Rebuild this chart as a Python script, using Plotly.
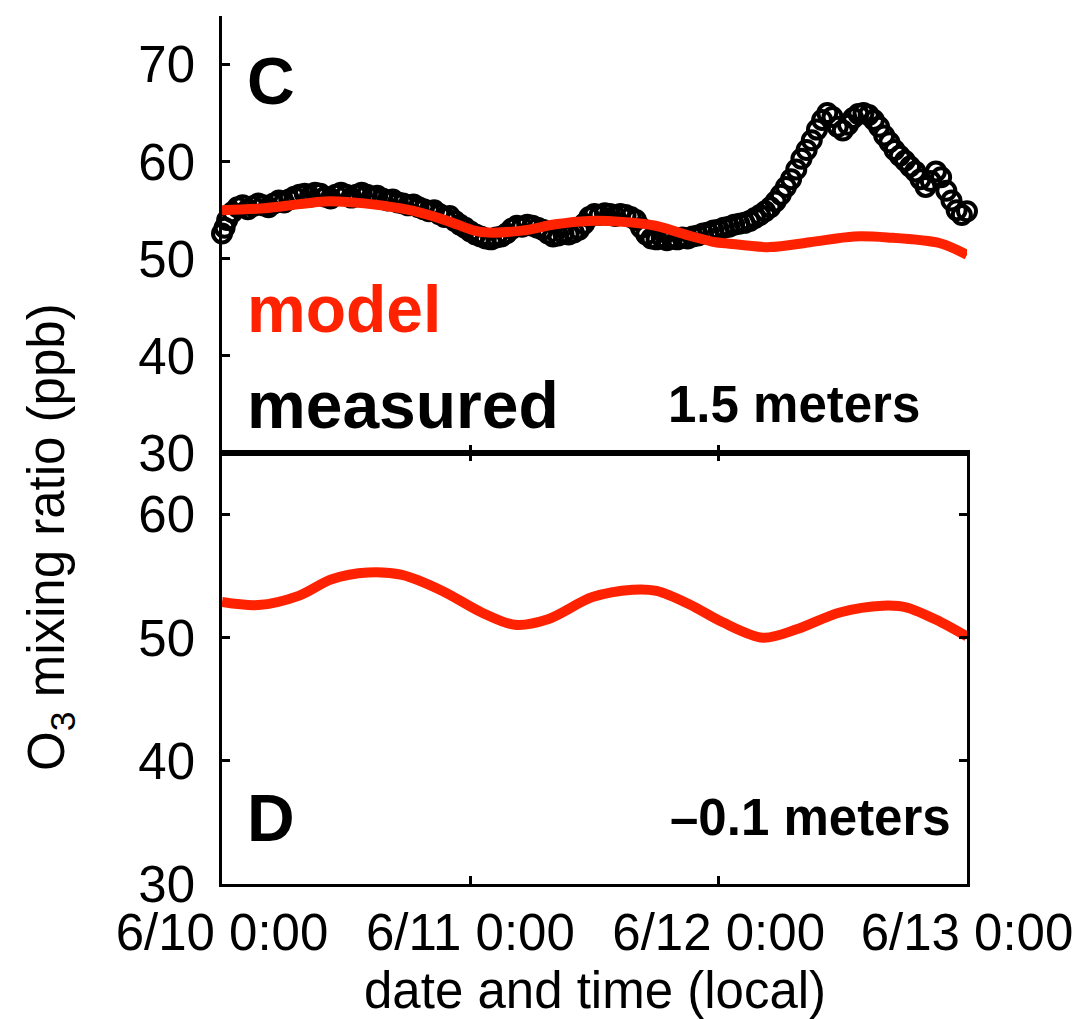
import pandas as pd
import plotly.graph_objects as go

# ---------------- data (hours after 6/10 0:00, O3 in ppb) ----------------
meas_hours = [0.0, 0.25, 0.5, 1.0, 1.5, 2.0, 2.5, 3.0, 3.5, 4.0, 4.5, 5.0, 5.5, 6.0, 6.5,
              7.0, 7.5, 8.0, 8.5, 9.0, 9.5, 10.0, 10.5, 11.0, 11.5, 12.0, 12.5, 13.0, 13.5,
              14.0, 14.5, 15.0, 15.5, 16.0, 16.5, 17.0, 17.5, 18.0, 18.5, 19.0, 19.5, 20.0,
              20.5, 21.0, 21.5, 22.0, 22.5, 23.0, 23.5, 24.0, 24.5, 25.0, 25.5, 26.0, 26.5,
              27.0, 27.5, 28.0, 28.5, 29.0, 29.5, 30.0, 30.5, 31.0, 31.5, 32.0, 32.5, 33.0,
              33.5, 34.0, 34.5, 35.0, 35.5, 36.0, 36.5, 37.0, 37.5, 38.0, 38.5, 39.0, 39.5,
              40.0, 40.5, 41.0, 41.5, 42.0, 42.5, 43.0, 43.5, 44.0, 44.5, 45.0, 45.5, 46.0,
              46.5, 47.0, 47.5, 48.0, 48.5, 49.0, 49.5, 50.0, 50.5, 51.0, 51.5, 52.0, 52.5,
              53.0, 53.5, 54.0, 54.5, 55.0, 55.5, 56.0, 56.5, 57.0, 57.5, 58.0, 58.5, 59.0,
              59.5, 60.0, 60.5, 61.0, 61.5, 62.0, 62.5, 63.0, 63.5, 64.0, 64.5, 65.0, 65.5,
              66.0, 66.5, 67.0, 67.5, 68.0, 68.5, 69.0, 69.5, 70.0, 70.5, 71.0, 71.5, 72.0]
meas_o3 = [52.6, 53.2, 54.0, 54.8, 55.3, 55.5, 55.1, 55.4, 55.7, 55.5, 55.3, 55.7, 56.0, 55.8, 56.1,
           56.4, 56.6, 56.7, 56.4, 56.8, 56.7, 56.4, 56.2, 56.6, 56.8, 56.6, 56.3, 56.6, 56.8,
           56.6, 56.4, 56.5, 56.2, 56.0, 56.1, 55.8, 55.7, 55.5, 55.6, 55.3, 55.1, 54.9,
           55.0, 54.6, 54.3, 54.4, 53.9, 53.5, 53.2, 52.8, 52.5, 52.3, 52.1, 52.0, 52.2,
           52.3, 52.6, 53.1, 53.4, 53.3, 53.5, 53.4, 53.2, 53.0, 52.6, 52.3, 52.4, 52.6,
           52.5, 52.7, 53.0, 53.6, 54.3, 54.6, 54.5, 54.7, 54.6, 54.4, 54.6, 54.5, 54.3,
           54.0, 53.2, 52.5, 52.1, 52.0, 52.2, 51.9, 52.1, 52.0, 52.2, 52.1, 52.3, 52.4,
           52.6, 52.7, 52.9, 53.0, 53.2, 53.3, 53.5, 53.6, 53.7, 53.9, 54.2, 54.5, 54.9,
           55.3, 55.9, 56.6, 57.4, 58.2, 59.2, 60.3, 61.2, 62.2, 63.3, 64.3, 65.0, 64.6,
           63.6, 63.2, 63.8, 64.5, 64.9, 65.0, 64.8, 64.3, 63.6, 62.7, 62.0, 61.2, 60.6,
           60.1, 59.5, 59.0, 58.2, 57.4, 58.0, 59.0, 58.4, 57.0, 56.0, 55.0, 54.5, 54.9]

model_c_hours = [0.0, 4.1, 7.3, 9.9, 12.1, 15.4, 18.6, 21.8, 24.4, 25.7, 29.0, 32.2, 35.4,
                 38.7, 41.9, 45.1, 47.7, 48.7, 52.9, 56.8, 61.1, 64.3, 69.4, 72.0]
model_c_o3 = [55.0, 55.2, 55.6, 55.9, 55.85, 55.5, 54.9, 53.9, 52.9, 52.7, 52.9, 53.55,
              53.9, 53.8, 53.4, 52.4, 51.7, 51.6, 51.2, 51.7, 52.3, 52.2, 51.6, 50.4]

model_d_hours = [0.0, 3.5, 7.4, 10.6, 14.1, 17.4, 21.3, 25.1, 28.3, 31.5, 35.8, 39.7,
                 42.0, 45.2, 48.4, 52.3, 55.6, 59.7, 63.9, 66.2, 69.4, 72.0]
model_d_o3 = [52.9, 52.65, 53.4, 54.75, 55.3, 55.1, 53.8, 52.05, 51.05, 51.5, 53.3, 53.9,
              53.8, 52.7, 51.25, 50.0, 50.7, 52.05, 52.6, 52.45, 51.3, 50.1]

tick_days = ["2010-06-10", "2010-06-11", "2010-06-12", "2010-06-13"]
tick_labels = ["6/10 0:00", "6/11 0:00", "6/12 0:00", "6/13 0:00"]
yticks_c = [30, 40, 50, 60, 70]
yticks_d = [30, 40, 50, 60]

# ---------------- figure ----------------
t0 = pd.Timestamp("2010-06-10")
def to_time(hours):
    return [t0 + pd.Timedelta(hours=h) for h in hours]

RED = "#ff2200"
FONT = "Liberation Sans, Arial, Helvetica, sans-serif"

fig = go.Figure()
fig.add_trace(go.Scatter(x=to_time(meas_hours), y=meas_o3, mode="markers",
                         marker=dict(symbol="circle-open", size=18, color="black",
                                     line=dict(width=4, color="black")),
                         xaxis="x", yaxis="y", showlegend=False, cliponaxis=False))
fig.add_trace(go.Scatter(x=to_time(model_c_hours), y=model_c_o3, mode="lines",
                         line=dict(color=RED, width=10, shape="spline", smoothing=0.9),
                         xaxis="x", yaxis="y", showlegend=False))
fig.add_trace(go.Scatter(x=to_time(model_d_hours), y=model_d_o3, mode="lines",
                         line=dict(color=RED, width=10, shape="spline", smoothing=0.9),
                         xaxis="x2", yaxis="y2", showlegend=False))

split = 431 / 868
xr = [t0, t0 + pd.Timedelta(hours=72)]
axis_common = dict(showgrid=False, zeroline=False, showline=True, linecolor="black",
                   linewidth=2.5, ticks="inside", ticklen=8, tickwidth=2.5,
                   tickcolor="black", automargin=False,
                   tickfont=dict(family=FONT, size=51, color="black"))

fig.update_layout(
    width=1080, height=1019,
    margin=dict(l=222, r=113, t=16, b=135, autoexpand=False),
    paper_bgcolor="white", plot_bgcolor="white",
    xaxis=dict(domain=[0, 1], anchor="y", range=xr, tickvals=tick_days,
               showticklabels=False, mirror=False, **axis_common),
    yaxis=dict(domain=[split, 1], anchor="x", range=[30, 75], tickvals=yticks_c,
               mirror=False, ticklabelstandoff=14, **axis_common),
    xaxis2=dict(domain=[0, 1], anchor="y2", range=xr, tickvals=tick_days,
                ticktext=tick_labels, mirror="ticks", ticklabelstandoff=2, **axis_common),
    yaxis2=dict(domain=[0, split], anchor="x2", range=[30, 65], tickvals=yticks_d,
                mirror="ticks", ticklabelstandoff=14, **axis_common),
)

def t_at(h):
    return t0 + pd.Timedelta(hours=h)

ann = [
    dict(text="<b>C</b>", x=t_at(2.2), y=68.3, xref="x", yref="y", xanchor="left",
         yanchor="middle", font=dict(size=66, color="black")),
    dict(text="<b>model</b>", x=t_at(2.2), y=44.8, xref="x", yref="y", xanchor="left",
         yanchor="middle", font=dict(size=66, color=RED)),
    dict(text="<b>measured</b>", x=t_at(2.2), y=34.9, xref="x", yref="y", xanchor="left",
         yanchor="middle", font=dict(size=66, color="black")),
    dict(text="<b>1.5 meters</b>", x=t_at(67.65), y=35.0, xref="x", yref="y", xanchor="right",
         yanchor="middle", font=dict(size=51, color="black")),
    dict(text="<b>D</b>", x=t_at(2.2), y=35.4, xref="x2", yref="y2", xanchor="left",
         yanchor="middle", font=dict(size=66, color="black")),
    dict(text="<b>\u20130.1 meters</b>", x=t_at(70.6), y=35.4, xref="x2", yref="y2",
         xanchor="right", yanchor="middle", font=dict(size=51, color="black")),
    dict(text="date and time (local)", x=0.5, y=(884 - 990) / 868, xref="paper", yref="paper",
         xanchor="center", yanchor="middle", font=dict(size=51, color="black")),
    dict(text="O<sub>3</sub> mixing ratio (ppb)", x=(50 - 222) / 745, y=(884 - 537) / 868,
         xref="paper", yref="paper", xanchor="center", yanchor="middle", textangle=-90,
         font=dict(size=51, color="black")),
]
for a in ann:
    a["showarrow"] = False
    a["font"]["family"] = FONT
fig.update_layout(annotations=ann)

fig.write_html("out.html")
